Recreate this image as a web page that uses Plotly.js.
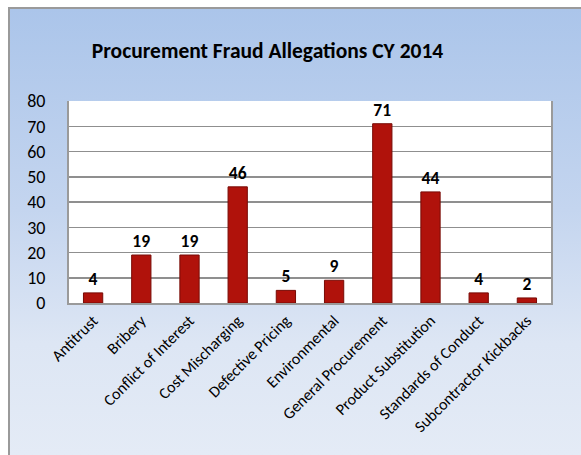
<!DOCTYPE html>
<html>
<head>
<meta charset="utf-8">
<script src="https://cdn.plot.ly/plotly-3.0.1.min.js"></script>
<style>
  html, body { margin: 0; padding: 0; background: #ffffff; }
  #frame {
    position: absolute; left: 8px; top: 7px; width: 573px; height: 448px;
    border-left: 2px solid #9a9a9a; border-top: 2px solid #9a9a9a;
    background: linear-gradient(to bottom, #abc5ea 0%, #c4d5ef 45%, #dde6f4 75%, #e4ebf6 100%);
    box-sizing: border-box;
  }
  #chart { position: absolute; left: 0; top: 0; width: 581px; height: 455px; }
</style>
</head>
<body>
<div id="frame"></div>
<div id="chart"></div>
<script>
const categories = ["Antitrust", "Bribery", "Conflict of Interest", "Cost Mischarging", "Defective Pricing",
  "Environmental", "General Procurement", "Product Substitution", "Standards of Conduct", "Subcontractor Kickbacks"];
const allegations = [4, 19, 19, 46, 5, 9, 71, 44, 4, 2];
const yTicks = [0, 10, 20, 30, 40, 50, 60, 70, 80];
const chartTitle = "Procurement Fraud Allegations CY 2014";

const FONT = "Carlito, Calibri, Lato, 'Open Sans', sans-serif";

const trace = {
  type: "bar",
  x: categories,
  y: allegations,
  text: allegations.map(String),
  textposition: "outside",
  cliponaxis: false,
  textfont: { family: FONT, size: 17.5, color: "#000000", weight: "bold" },
  marker: { color: "#b0120b", line: { color: "#780b06", width: 1 } },
  hoverinfo: "x+y"
};

const layout = {
  width: 581, height: 455,
  paper_bgcolor: "rgba(0,0,0,0)",
  plot_bgcolor: "#ffffff",
  margin: { l: 69, r: 30, t: 101, b: 152 },
  bargap: 0.6,
  showlegend: false,
  font: { family: FONT, color: "#000000" },
  title: {
    text: "<b>" + chartTitle + "</b>",
    font: { family: FONT, size: 21.5, color: "#000000" },
    x: 0.4604, xanchor: "center", xref: "container",
    y: 0.89, yanchor: "middle", yref: "container"
  },
  xaxis: {
    type: "category",
    tickangle: -45,
    tickfont: { family: FONT, size: 16, color: "#000000" },
    showline: true, linecolor: "#9a9a9a", linewidth: 2,
    showgrid: false, ticks: "", zeroline: false
  },
  yaxis: {
    range: [0, 80],
    tickvals: yTicks,
    ticktext: yTicks.map(String),
    tickfont: { family: FONT, size: 18, color: "#000000" },
    showgrid: true, gridcolor: "#8f8f8f", gridwidth: 1.5,
    showline: true, linecolor: "#9a9a9a", linewidth: 2, mirror: true,
    ticks: "outside", ticklen: 18, tickcolor: "rgba(0,0,0,0)",
    zeroline: false
  }
};

Plotly.newPlot("chart", [trace], layout, { displayModeBar: false, staticPlot: true });
</script>
</body>
</html>
